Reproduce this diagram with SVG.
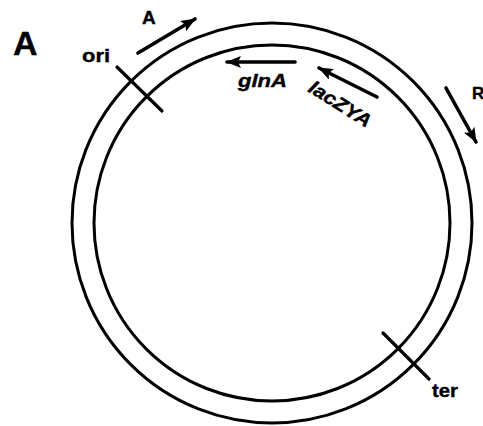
<svg xmlns="http://www.w3.org/2000/svg" width="483" height="426" viewBox="0 0 483 426">
<defs>
<marker id="ah" markerUnits="userSpaceOnUse" markerWidth="16" markerHeight="12" refX="14" refY="6" orient="auto">
<path d="M0,0 L15,6 L0,12 L3,6 Z" fill="#000"/>
</marker>
<style>
.ring{fill:none;stroke:#000;stroke-width:3}
.tick{stroke:#000;stroke-width:3.2;stroke-linecap:round}
.arr{stroke:#000;stroke-width:3.6;stroke-linecap:round;fill:none;marker-end:url(#ah)}
.lbl{font-family:"Liberation Sans",Arial,sans-serif;font-weight:bold;fill:#000;stroke:#000;stroke-width:0.4}
.it{font-style:italic}
</style>
</defs>
<rect width="483" height="426" fill="#fff"/>
<g id="panel-label"><text class="lbl" x="13" y="55" font-size="34">A</text></g>
<g id="chromosome">
<circle class="ring" cx="272" cy="223" r="200"/>
<circle class="ring" cx="272" cy="223" r="178"/>
</g>
<g id="ori">
<line class="tick" x1="117" y1="67" x2="162" y2="111"/>
<text class="lbl" x="82" y="62" font-size="19" textLength="28" lengthAdjust="spacingAndGlyphs">ori</text>
</g>
<g id="ter">
<line class="tick" x1="383" y1="333" x2="429" y2="379"/>
<text class="lbl" x="432" y="397" font-size="19" textLength="26" lengthAdjust="spacingAndGlyphs">ter</text>
</g>
<g id="glnA">
<text class="lbl it" x="238" y="87" font-size="19" textLength="49" lengthAdjust="spacingAndGlyphs">glnA</text>
</g>
<g id="lacZYA">
<text class="lbl it" x="0" y="0" font-size="19" textLength="70" lengthAdjust="spacingAndGlyphs" transform="translate(307,91) rotate(32)">lacZYA</text>
</g>
<g id="label-A"><text class="lbl" x="142" y="24" font-size="19">A</text></g>
<g id="label-R"><text class="lbl" x="472" y="99" font-size="17">R</text></g>
<g id="connectors">
<line class="arr" x1="138" y1="53" x2="195" y2="19"/>
<line class="arr" x1="295" y1="62" x2="227" y2="62"/>
<line class="arr" x1="377" y1="97" x2="319" y2="68"/>
<line class="arr" x1="446" y1="88" x2="476" y2="142"/>
</g>
</svg>
